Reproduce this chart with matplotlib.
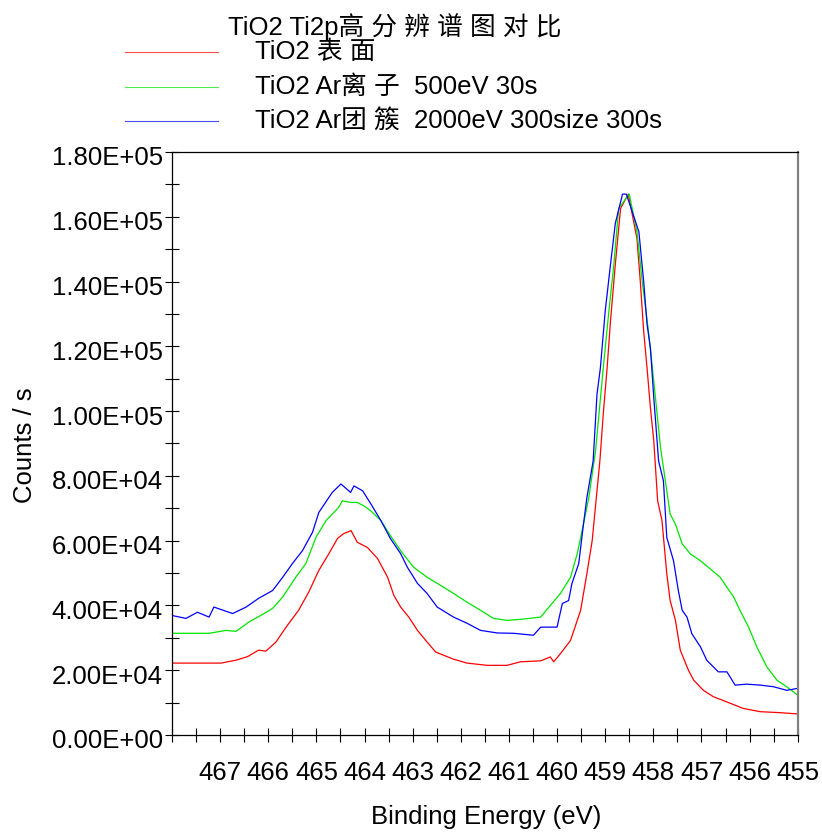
import matplotlib
matplotlib.use('Agg')
import matplotlib.pyplot as plt
from matplotlib.lines import Line2D
import matplotlib.transforms as mtransforms
import numpy as np

plt.rcParams['font.family'] = ['Liberation Sans', 'Noto Sans CJK SC', 'DejaVu Sans']

# binding energy (eV) and counts/s (in thousands)
be_red = [468.0, 466.98, 466.67, 466.43, 466.20, 466.05, 465.84, 465.63, 465.37, 465.16,
          464.95, 464.74, 464.56, 464.43, 464.28, 464.15, 463.94, 463.73, 463.52, 463.39,
          463.25, 463.08, 462.90, 462.70, 462.52, 462.15, 461.87, 461.45, 461.04, 460.76,
          460.34, 460.14, 460.07, 459.93, 459.72, 459.51, 459.38, 459.27, 459.17, 459.11,
          459.04, 458.96, 458.89, 458.79, 458.68, 458.52, 458.34, 458.27, 458.20, 458.13,
          458.06, 457.99, 457.91, 457.82, 457.72, 457.65, 457.54, 457.44, 457.27, 457.16,
          456.96, 456.75, 456.47, 456.13, 455.78, 455.37, 455.0]
cps_red = [22.2, 22.2, 23.1, 24.2, 26.2, 25.9, 28.7, 33.3, 38.5, 44.1,
           50.8, 56.0, 60.7, 62.2, 63.1, 59.5, 57.9, 54.5, 48.7, 43.1,
           39.5, 36.4, 32.3, 28.7, 25.6, 23.4, 22.2, 21.5, 21.5, 22.6,
           22.9, 24.1, 22.6, 25.1, 29.2, 38.5, 49.8, 60.0, 75.4, 84.6,
           99.1, 113.3, 127.7, 145.2, 162.6, 167.0, 153.3, 140.0, 124.6, 113.3,
           101.0, 90.8, 72.3, 66.2, 49.8, 41.5, 35.4, 26.2, 20.0, 16.9,
           13.8, 11.8, 10.2, 8.2, 7.2, 6.9, 6.5]

be_green = [468.0, 467.57, 467.23, 466.88, 466.67, 466.40, 466.12, 465.91, 465.70, 465.43,
            465.22, 465.01, 464.80, 464.54, 464.46, 464.29, 464.15, 464.02, 463.87, 463.66,
            463.46, 463.25, 462.98, 462.70, 462.42, 462.15, 461.87, 461.59, 461.32, 461.04,
            460.76, 460.34, 460.14, 459.93, 459.72, 459.58, 459.45, 459.34, 459.20, 459.04,
            458.93, 458.82, 458.72, 458.50, 458.34, 458.23, 458.10, 457.99, 457.85, 457.75,
            457.65, 457.54, 457.40, 457.23, 457.02, 456.82, 456.61, 456.47, 456.33, 456.20,
            456.02, 455.85, 455.64, 455.43, 455.23, 455.0]
cps_green = [31.4, 31.4, 31.4, 32.3, 32.0, 34.9, 37.2, 39.1, 42.6, 48.7,
             52.9, 61.0, 66.2, 70.2, 72.3, 71.8, 71.8, 70.8, 69.2, 66.2,
             61.5, 56.9, 51.8, 48.7, 46.2, 43.7, 41.0, 38.5, 36.0, 35.4,
             35.7, 36.4, 40.0, 43.7, 48.7, 56.0, 65.2, 73.3, 87.7, 113.3,
             129.8, 145.2, 162.6, 167.0, 155.4, 140.0, 124.6, 109.2, 88.7, 78.5,
             68.2, 65.1, 59.0, 55.9, 53.8, 51.3, 48.7, 45.6, 42.6, 38.5,
             33.3, 27.2, 21.0, 16.9, 14.9, 12.3]

be_blue = [468.0, 467.71, 467.47, 467.23, 467.13, 466.74, 466.46, 466.20, 465.91, 465.70,
           465.50, 465.29, 465.08, 464.95, 464.67, 464.49, 464.29, 464.22, 464.04, 463.87,
           463.66, 463.46, 463.25, 463.11, 462.90, 462.70, 462.49, 462.15, 461.87, 461.59,
           461.24, 460.90, 460.49, 460.34, 460.00, 459.89, 459.76, 459.69, 459.55, 459.45,
           459.38, 459.25, 459.17, 459.10, 459.00, 458.89, 458.79, 458.64, 458.56, 458.30,
           458.20, 458.13, 458.06, 457.99, 457.89, 457.79, 457.72, 457.58, 457.48, 457.40,
           457.30, 457.20, 457.02, 456.89, 456.65, 456.47, 456.30, 456.06, 455.78, 455.50,
           455.23, 455.0]
cps_blue = [36.9, 36.0, 37.9, 36.4, 39.5, 37.5, 39.5, 42.2, 44.6, 48.7,
            52.9, 56.9, 62.6, 68.7, 74.9, 77.5, 74.9, 76.9, 75.4, 71.4,
            66.2, 60.6, 56.0, 51.8, 46.8, 43.7, 39.5, 36.4, 34.5, 32.3,
            31.5, 31.4, 30.8, 33.3, 33.3, 40.6, 41.5, 46.8, 52.9, 65.2,
            73.3, 84.6, 105.2, 113.3, 130.8, 145.2, 157.9, 167.0, 167.0, 155.4,
            140.0, 126.8, 119.5, 104.1, 84.6, 78.5, 61.0, 53.8, 44.6, 38.5,
            36.4, 31.3, 27.2, 23.1, 19.5, 19.5, 15.4, 15.7, 15.4, 14.9,
            13.8, 14.4]

labels = ['TiO2 表 面', 'TiO2 Ar离 子  500eV 30s', 'TiO2 Ar团 簇  2000eV 300size 300s']
colors = ['#ff0000', '#00e600', '#0000ff']
legend_title = 'TiO2 Ti2p高 分 辨 谱 图 对 比'

xticks = np.arange(455, 468.01, 0.5)
xticklabels = ['%d' % t if t == int(t) and t < 468 else '' for t in xticks]
yticks = np.arange(0, 180001, 10000)
yticklabels = ['%.2E' % t if t % 20000 == 0 else '' for t in yticks]

W, H = 822, 832
fs = 18.5
fig = plt.figure(figsize=(W / 100, H / 100), dpi=100)
ax = fig.add_axes([172 / W, 1 - 735 / H, (797.7 - 172) / W, (735 - 152) / H])

series = [(be_red, cps_red), (be_green, cps_green), (be_blue, cps_blue)]
for (x, y), c in zip(series, colors):
    ax.plot(x, np.array(y) * 1000, color=c, lw=0.9)

ax.set_xlim(468, 455)
ax.set_ylim(0, 180000)
ax.set_xticks(xticks)
ax.set_xticklabels(xticklabels)
ax.set_yticks(yticks)
ax.set_yticklabels(yticklabels)
ax.tick_params(direction='inout', length=10, width=0.8, labelsize=fs, colors='black')
ax.tick_params(axis='x', pad=14)
ax.tick_params(axis='y', pad=1.5)
# y labels sit a little below their ticks in the original
shift = mtransforms.ScaledTranslation(0, -4 / 100, fig.dpi_scale_trans)
for lab in ax.get_yticklabels():
    lab.set_transform(lab.get_transform() + shift)
for s in ['left', 'bottom', 'top']:
    ax.spines[s].set_linewidth(0.9)
ax.spines['right'].set_color('#808080')
ax.spines['right'].set_linewidth(1.6)

fig.text(486 / W, 1 - 817 / H, 'Binding Energy (eV)', ha='center', va='center', fontsize=fs)
fig.text(25 / W, 1 - 445 / H, 'Counts / s', ha='center', va='center', rotation=90, fontsize=fs)

# legend drawn by hand to match the original layout
fig.text(228 / W, 1 - 27 / H, legend_title, ha='left', va='center', fontsize=fs)
for i, (lab, c) in enumerate(zip(labels, colors)):
    yy = 1 - (52 + 34.5 * i) / H
    fig.add_artist(Line2D([125 / W, 218 / W], [yy, yy], color=c, lw=0.8, alpha=0.7))
    fig.text(255 / W, yy, lab, ha='left', va='center', fontsize=fs)

fig.savefig('out.png', dpi=100)
